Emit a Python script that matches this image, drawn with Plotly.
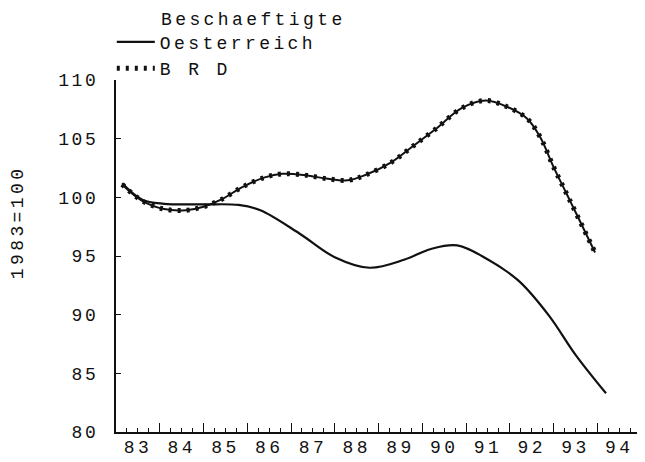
import plotly.graph_objects as go

# ---- data (x = year, fractional; y = index 1983=100)
oe_x = [83.14, 83.6, 84.1, 85.0, 85.8, 86.3, 87.2, 88.0, 88.8, 89.6, 90.2, 90.8, 91.5, 92.2, 92.9, 93.5, 94.2]
oe_y = [101.2, 99.8, 99.45, 99.4, 99.35, 98.9, 96.9, 94.9, 94.0, 94.7, 95.6, 95.9, 94.7, 92.9, 89.9, 86.6, 83.3]

brd_x = [83.14, 83.6, 84.1, 84.6, 85.0, 85.4, 85.9, 86.4, 86.8, 87.3, 87.8, 88.3, 88.7, 89.3, 89.8,
         90.3, 90.9, 91.45, 91.95, 92.4, 92.7, 93.0, 93.3, 93.6, 93.95]
brd_y = [101.1, 99.7, 99.0, 98.9, 99.2, 99.8, 100.9, 101.7, 102.0, 101.9, 101.6, 101.45, 101.9, 103.0, 104.4,
         105.8, 107.6, 108.25, 107.7, 106.7, 105.1, 102.6, 100.3, 98.0, 95.3]

x_labels = ["83", "84", "85", "86", "87", "88", "89", "90", "91", "92", "93", "94"]
x_label_pos = [83.5, 84.5, 85.5, 86.5, 87.5, 88.5, 89.5, 90.5, 91.5, 92.5, 93.5, 94.5]
x_major = [83, 84, 85, 86, 87, 88, 89, 90, 91, 92, 93, 94, 95]
y_ticks = [80, 85, 90, 95, 100, 105, 110]

series_names = ["Oesterreich", "B R D"]
legend_title = "Beschaeftigte"
y_title = "1983=100"

FONT = "Liberation Mono"
INK = "#111111"


def sp(t, ls=3.4):
    return f'<span style="letter-spacing:{ls}px">{t}</span>'


fig = go.Figure()

fig.add_trace(go.Scatter(
    x=oe_x, y=oe_y, mode="lines", name=sp(series_names[0]),
    line=dict(color=INK, width=2.2, shape="spline", smoothing=1.0),
    hoverinfo="skip"))

# thin continuous line of the BRD series
fig.add_trace(go.Scatter(
    x=brd_x, y=brd_y, mode="lines", name=sp(series_names[1]), legendgroup="brd",
    showlegend=False,
    line=dict(color=INK, width=2, shape="spline", smoothing=1.0),
    hoverinfo="skip"))
# beaded overlay of the BRD series
fig.add_trace(go.Scatter(
    x=brd_x, y=brd_y, mode="lines", name=sp(series_names[1]), legendgroup="brd",
    line=dict(color=INK, width=5, shape="spline", smoothing=1.0, dash="3px,6px"),
    hoverinfo="skip"))

# invisible helper trace so the label axis is drawn
fig.add_trace(go.Scatter(x=[83, 95], y=[None, None], xaxis="x2", mode="lines",
                         showlegend=False, hoverinfo="skip"))

# the page body has a small default margin, so the figure is 8px smaller
fig.update_layout(
    width=637, height=454,
    margin=dict(l=108, r=4, t=72, b=30, autoexpand=False),
    paper_bgcolor="white", plot_bgcolor="white",
    font=dict(family=FONT, size=18, color=INK),
    showlegend=True,
    legend=dict(x=-0.008, y=1.16, xanchor="left", yanchor="top",
                bgcolor="rgba(0,0,0,0)", itemwidth=38, tracegroupgap=0,
                font=dict(family=FONT, size=18, color=INK)),
    xaxis=dict(range=[83, 95], showline=True, linecolor=INK, linewidth=2,
               showgrid=False, zeroline=False, automargin=False,
               tickmode="array", tickvals=x_major, ticks="inside", ticklen=9,
               tickwidth=1.2, tickcolor=INK, showticklabels=False,
               minor=dict(tickmode="array",
                          tickvals=[83 + i * 0.25 for i in range(49)],
                          ticks="inside", ticklen=4, tickwidth=1, tickcolor=INK)),
    xaxis2=dict(range=[83, 95], overlaying="x", anchor="y", side="bottom",
                showline=False, showgrid=False, zeroline=False, automargin=False,
                tickmode="array", tickvals=x_label_pos,
                ticktext=[sp(t) for t in x_labels], ticks="",
                ticklabelstandoff=2,
                tickfont=dict(family=FONT, size=18, color=INK)),
    yaxis=dict(range=[80, 110], showline=True, linecolor=INK, linewidth=2,
               showgrid=False, zeroline=False, automargin=False,
               tickmode="array", tickvals=y_ticks,
               ticktext=[sp(str(v), 2.6) for v in y_ticks],
               ticks="inside", ticklen=5, tickwidth=1.2, tickcolor=INK,
               ticklabelstandoff=12,
               tickfont=dict(family=FONT, size=18, color=INK)),
    annotations=[
        dict(text=sp(legend_title), xref="paper", yref="paper",
             x=0.082, y=1.17, xanchor="left", yanchor="middle",
             showarrow=False, font=dict(family=FONT, size=18, color=INK)),
        dict(text=sp(y_title), xref="paper", yref="paper",
             x=-0.186, y=0.597, xanchor="center", yanchor="middle",
             textangle=-90, showarrow=False,
             font=dict(family=FONT, size=18, color=INK)),
    ],
)

fig.write_html("out.html")
